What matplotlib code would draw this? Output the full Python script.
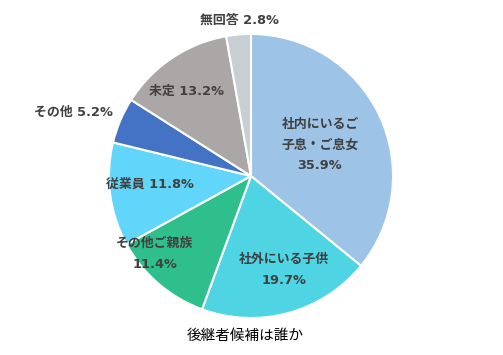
import matplotlib
matplotlib.use("Agg")
import matplotlib.pyplot as plt

plt.rcParams['font.family'] = ['DejaVu Sans', 'Noto Sans CJK JP']

categories = ['社内にいるご\n子息・ご息女', '社外にいる子供', 'その他ご親族', '従業員', 'その他', '未定', '無回答']
values = [35.9, 19.7, 11.4, 11.8, 5.2, 13.2, 2.8]
colors = ['#9DC3E6', '#4FD4E4', '#2EBF8C', '#61D5FA', '#4472C4', '#ABA7A6', '#C7CFD4']
title = '後継者候補は誰か'

W, H = 503, 355
fig = plt.figure(figsize=(W / 100, H / 100), dpi=100)
ax = fig.add_axes([0, 0, 1, 1])

cx, cy, r = 251, H - 176, 142
ax.pie(values, colors=colors, startangle=90, counterclock=False,
       center=(cx, cy), radius=r, frame=True,
       wedgeprops=dict(edgecolor='white', linewidth=1.5))
ax.set_xlim(0, W)
ax.set_ylim(0, H)
ax.set_aspect('equal')
ax.axis('off')

# label positions (pixel coordinates, y from top)
label_pos = [(320, 145), (284, 270), (155, 254), (150, 184), (73, 112), (187, 91), (239, 20)]
for cat, v, (px, py) in zip(categories, values, label_pos):
    if cat in ('従業員', 'その他', '未定', '無回答'):
        txt = f'{cat} {v:.1f}%'
    else:
        txt = f'{cat}\n{v:.1f}%'
    ax.text(px, H - py, txt, ha='center', va='center', fontsize=9.3,
            fontweight='bold', color='#404040', linespacing=1.75)

ax.text(245, H - 336, title, ha='center', va='center', fontsize=10.5, color='#000000',
        family=['Noto Sans CJK JP'])

fig.savefig('out.png', dpi=100)
